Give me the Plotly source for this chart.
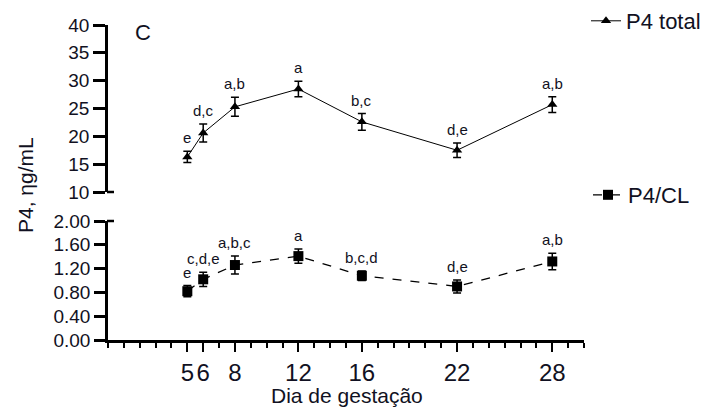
import plotly.graph_objects as go

# The page body has an 8px default margin, so the figure is sized to fit the
# 714x411 window and pixel positions are measured from the window's corner.
OFF = 8
W, H = 714 - OFF, 411 - OFF

days = [5, 6, 8, 12, 16, 22, 28]
p4_total = [16.3, 20.6, 25.3, 28.5, 22.6, 17.5, 25.7]
p4_total_err = [1.0, 1.6, 1.7, 1.4, 1.5, 1.3, 1.4]
p4_total_letters = ["e", "d,c", "a,b", "a", "b,c", "d,e", "a,b"]

p4_cl = [0.82, 1.02, 1.26, 1.41, 1.08, 0.90, 1.32]
p4_cl_err = [0.095, 0.12, 0.15, 0.12, 0.08, 0.11, 0.14]
p4_cl_letters = ["e", "c,d,e", "a,b,c", "a", "b,c,d", "d,e", "a,b"]

x_tickvals = [5, 6, 8, 12, 16, 22, 28]
x_ticktext = ["5", "6", "8", "12", "16", "22", "28"]
top_ticks = [10, 15, 20, 25, 30, 35, 40]
bot_ticks = [0.0, 0.4, 0.8, 1.2, 1.6, 2.0]

FONT = "Liberation Sans, Arial, sans-serif"
TXT = "#111122"

def px(x):
    return (x - OFF) / W

def py(y):
    return 1 - (y - OFF) / H

x_dom = [px(108), px(584)]
top_dom = [py(192), py(25)]
bot_dom = [py(340), py(221)]

fig = go.Figure()

fig.add_trace(go.Scatter(
    x=days, y=p4_total, mode="lines+markers", name="P4 total",
    xaxis="x2", yaxis="y2",
    line=dict(color="black", width=1),
    marker=dict(symbol="triangle-up", size=9, color="black"),
    error_y=dict(type="data", array=p4_total_err, color="black", thickness=1.5, width=4),
    legend="legend",
))

fig.add_trace(go.Scatter(
    x=days, y=p4_cl, mode="lines+markers", name="P4/CL",
    xaxis="x", yaxis="y",
    line=dict(color="black", width=1.3, dash="dash"),
    marker=dict(symbol="square", size=10, color="black"),
    error_y=dict(type="data", array=p4_cl_err, color="black", thickness=1.5, width=4),
    legend="legend2",
))

annotations = []
for d, v, e, t in zip(days, p4_total, p4_total_err, p4_total_letters):
    annotations.append(dict(x=d, y=v + e, xref="x2", yref="y2", text=t, showarrow=False,
                            yanchor="bottom", yshift=3, font=dict(family=FONT, size=15, color=TXT)))
for d, v, e, t in zip(days, p4_cl, p4_cl_err, p4_cl_letters):
    annotations.append(dict(x=d, y=v + e, xref="x", yref="y", text=t, showarrow=False,
                            yanchor="bottom", yshift=3, font=dict(family=FONT, size=15, color=TXT)))

annotations += [
    dict(x=px(143), y=py(32), xref="paper", yref="paper", text="C", showarrow=False,
         xanchor="center", yanchor="middle", font=dict(family=FONT, size=22, color=TXT)),
    dict(x=px(25), y=py(185), xref="paper", yref="paper", text="P4, ηg/mL", showarrow=False,
         textangle=-90, xanchor="center", yanchor="middle", font=dict(family=FONT, size=21, color=TXT)),
    dict(x=px(347), y=py(395), xref="paper", yref="paper", text="Dia de gestação", showarrow=False,
         xanchor="center", yanchor="middle", font=dict(family=FONT, size=21, color=TXT)),
]

shapes = [
    dict(type="line", xref="paper", yref="paper", x0=px(107), x1=px(114), y0=py(192), y1=py(192),
         line=dict(color="black", width=2.5)),
    dict(type="line", xref="paper", yref="paper", x0=px(107), x1=px(114), y0=py(221), y1=py(221),
         line=dict(color="black", width=2.5)),
]

fig.update_layout(
    width=W, height=H,
    margin=dict(l=0, r=0, t=0, b=0, autoexpand=False),
    paper_bgcolor="white", plot_bgcolor="white",
    font=dict(family=FONT, color=TXT),
    xaxis=dict(domain=x_dom, range=[0, 30], anchor="y", automargin=False,
               showline=True, linecolor="black", linewidth=2.5,
               ticks="outside", ticklen=9, tickwidth=2, tickcolor="black",
               tickmode="array", tickvals=x_tickvals, ticktext=x_ticktext,
               tickfont=dict(family=FONT, size=24, color=TXT),
               minor=dict(tickmode="linear", tick0=0, dtick=1, ticks="outside",
                          ticklen=5, tickwidth=2, tickcolor="black"),
               showgrid=False, zeroline=False),
    yaxis=dict(domain=bot_dom, range=[0, 2], anchor="x", automargin=False,
               showline=True, linecolor="black", linewidth=2.5,
               ticks="outside", ticklen=11, tickwidth=2.5, tickcolor="black",
               tickmode="array", tickvals=bot_ticks, tickformat=".2f",
               tickfont=dict(family=FONT, size=19, color=TXT), ticklabelstandoff=0,
               showgrid=False, zeroline=False),
    xaxis2=dict(domain=x_dom, range=[0, 30], anchor="y2", visible=False),
    yaxis2=dict(domain=top_dom, range=[10, 40], anchor="x2", automargin=False,
                showline=True, linecolor="black", linewidth=2.5,
                ticks="outside", ticklen=12, tickwidth=2.5, tickcolor="black",
                tickmode="array", tickvals=top_ticks,
                tickfont=dict(family=FONT, size=19, color=TXT), ticklabelstandoff=0,
                showgrid=False, zeroline=False),
    legend=dict(x=px(586), y=py(21), xanchor="left", yanchor="middle",
                font=dict(family=FONT, size=22, color=TXT), bgcolor="rgba(0,0,0,0)"),
    legend2=dict(x=px(588), y=py(195), xanchor="left", yanchor="middle",
                 font=dict(family=FONT, size=22, color=TXT), bgcolor="rgba(0,0,0,0)"),
    showlegend=True,
    annotations=annotations,
    shapes=shapes,
)

fig.write_html("out.html")
